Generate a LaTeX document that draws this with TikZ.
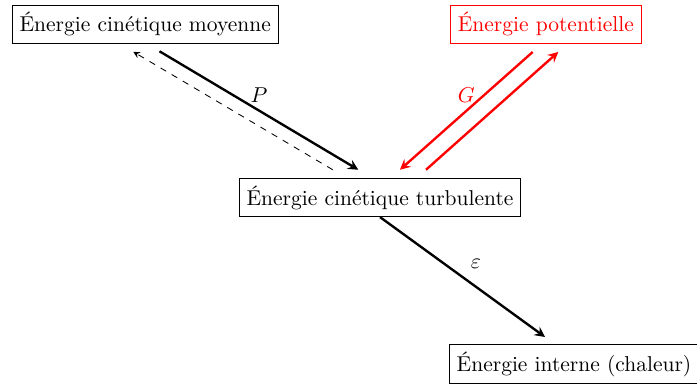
\documentclass[tikz,border=0pt]{standalone}
\usetikzlibrary{calc,arrows}
\begin{document}
\begin{tikzpicture}[x=0.4651pt,y=-0.4651pt,
  box/.style={draw, inner sep=3.33pt},
  flow/.style={line width=1.1pt,-stealth},
  back/.style={dashed,-stealth}]
\useasboundingbox (0,0) rectangle (697,385);
\node[box] (moy) at (145.2,24.2) {Énergie cinétique moyenne};
\node[box,red] (pot) at (545.8,24.2) {Énergie potentielle};
\node[box] (turb) at (380,197.5) {Énergie cinétique turbulente};
\node[box] (int) at (574,364) {Énergie interne (chaleur)};
\draw[flow] ($(moy.south)+(14.3,7.5)$) -- node[above] (lP) {$P$} ($(turb.north)+(-21.7,-8.2)$);
\draw[back] ($(turb.north)+(-47.3,-8.2)$) -- ($(moy.south)+(-11.9,8)$);
\draw[flow,red] ($(pot.south)+(-13.1,8.2)$) -- node[above] (lG) {$G$} ($(turb.north)+(20,-8.2)$);
\draw[flow,red] ($(turb.north)+(46,-8.2)$) -- ($(pot.south)+(12.5,8.2)$);
\draw[flow] (turb.south) -- node[above right] (lE) {$\varepsilon$} ($(int.north)+(-29,-7)$);
\end{tikzpicture}
\end{document}
